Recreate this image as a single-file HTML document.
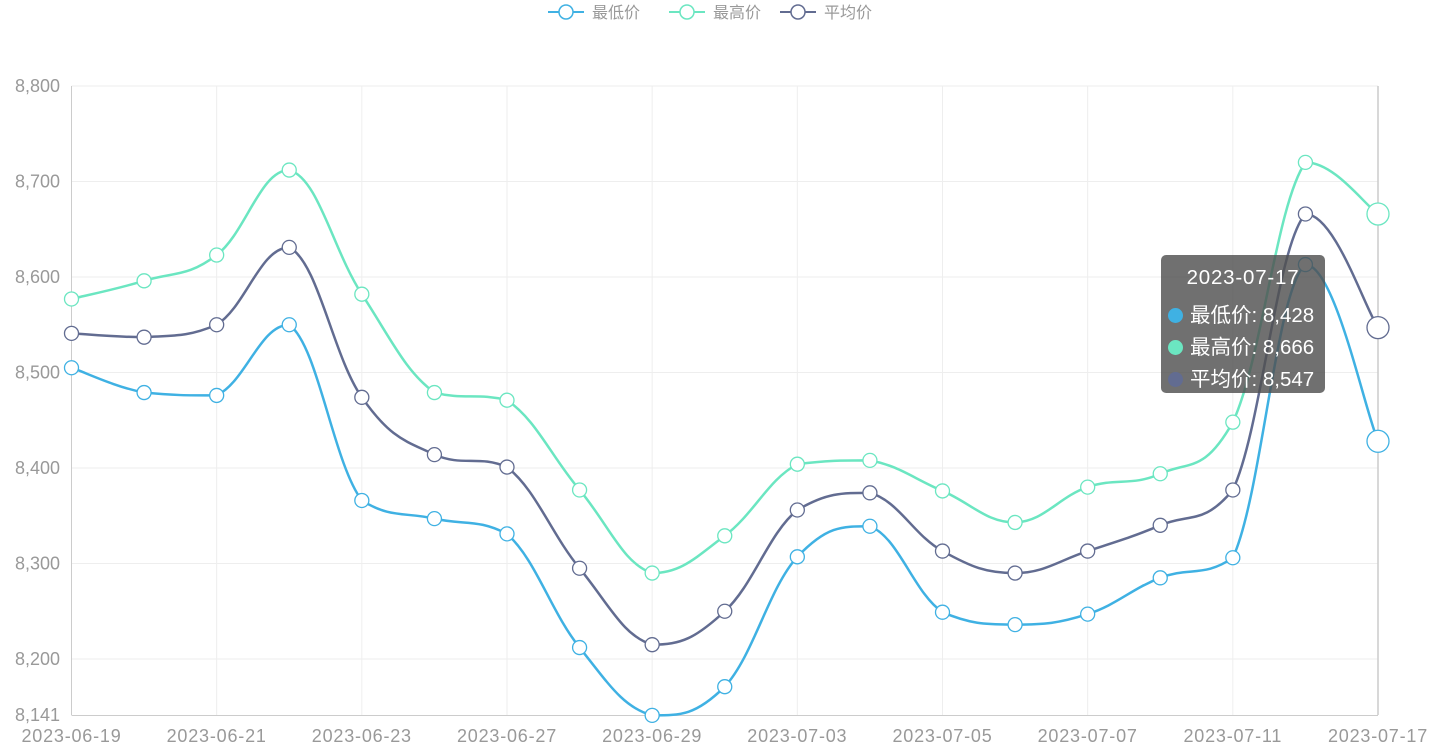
<!DOCTYPE html>
<html><head><meta charset="utf-8"><style>
body{margin:0;background:#fff;width:1442px;height:754px;overflow:hidden;font-family:"Liberation Sans","Noto Sans CJK SC",sans-serif}
#tt{position:absolute;left:1161px;top:255px;width:164px;height:138px;background:rgba(80,80,80,0.82);border-radius:5px;color:#fff;font-size:20.5px;box-sizing:border-box}
#tt div{position:absolute;left:7px;white-space:nowrap}
#tt span{display:inline-block;width:15px;height:15px;border-radius:50%;margin-right:7px;vertical-align:-1px}
</style></head><body>
<svg id="s" width="1442" height="754" style="position:absolute;left:0;top:0" font-family="Liberation Sans, Noto Sans CJK SC, sans-serif"></svg>
<div id="tt">
<div style="left:0;width:164px;text-align:center;top:11px;letter-spacing:0.8px">2023-07-17</div>
<div style="top:43px"><span style="background:#3fb1e3"></span>最低价: 8,428</div>
<div style="top:75px"><span style="background:#6be6c1"></span>最高价: 8,666</div>
<div style="top:107px"><span style="background:#626c91"></span>平均价: 8,547</div>
</div>
<script>
const L=[8505,8479,8476,8550,8366,8347,8331,8212,8141,8171,8307,8339,8249,8236,8247,8285,8306,8613,8428];
const H=[8577,8596,8623,8712,8582,8479,8471,8377,8290,8329,8404,8408,8376,8343,8380,8394,8448,8720,8666];
const A=[8541,8537,8550,8631,8474,8414,8401,8295,8215,8250,8356,8374,8313,8290,8313,8340,8377,8666,8547];
const x0=71.5,x1=1378,y=v=>659+(8200-v)*0.955,X=i=>x0+i*(x1-x0)/18;
let h='';
for(const v of [8200,8300,8400,8500,8600,8700,8800]){const yy=y(v).toFixed(1);h+=`<line x1="${x0}" x2="${x1}" y1="${yy}" y2="${yy}" stroke="#eee"/><text x="60" y="${+yy+6}" text-anchor="end" font-size="18" fill="#999">${v.toLocaleString('en-US')}</text>`;}
h+=`<text x="60" y="721" text-anchor="end" font-size="18" fill="#999">8,141</text>`;
const labs=['2023-06-19','2023-06-21','2023-06-23','2023-06-27','2023-06-29','2023-07-03','2023-07-05','2023-07-07','2023-07-11','2023-07-17'];
for(let k=0;k<10;k++){const xx=X(k*2);if(k>0&&k<9)h+=`<line x1="${xx}" x2="${xx}" y1="86" y2="715" stroke="#eee"/>`;h+=`<text x="${xx}" y="742" text-anchor="middle" font-size="18" letter-spacing="0.8" fill="#999">${labs[k]}</text>`;}
h+=`<line x1="${x0}" x2="${x0}" y1="86" y2="715" stroke="#ccc"/><line x1="${x0}" x2="${x1}" y1="715.5" y2="715.5" stroke="#ccc"/><line x1="${x1}" x2="${x1}" y1="86" y2="715" stroke="#ccc" stroke-width="1.5"/>`;
const cl=(v,a,b)=>Math.max(Math.min(a,b),Math.min(Math.max(a,b),v));
function path(d){const p=d.map((v,i)=>[X(i),y(v)]);let s=`M${p[0]}`;const t=0.2;
for(let i=0;i<p.length-1;i++){const a=p[i-1]||p[i],b=p[i],c=p[i+1],e=p[i+2]||c;
let y1=cl(b[1]+(c[1]-a[1])*t,b[1],c[1]),y2=cl(c[1]-(e[1]-b[1])*t,b[1],c[1]);
s+=` C${b[0]+(c[0]-a[0])*t},${y1} ${c[0]-(e[0]-b[0])*t},${y2} ${c[0]},${c[1]}`;}return s;}
for(const [d,c] of [[L,'#3fb1e3'],[H,'#6be6c1'],[A,'#626c91']]){
h+=`<path d="${path(d)}" fill="none" stroke="${c}" stroke-width="2.5"/>`;
d.forEach((v,i)=>{h+=`<circle cx="${X(i)}" cy="${y(v)}" r="${i==18?11:7}" fill="#fff" stroke="${c}" stroke-width="1.3"/>`;});}
[[548,'#3fb1e3','最低价'],[669,'#6be6c1','最高价'],[780,'#626c91','平均价']].forEach(([x,c,t])=>{
h+=`<line x1="${x}" x2="${x+36}" y1="12" y2="12" stroke="${c}" stroke-width="2"/><circle cx="${x+18}" cy="12" r="7" fill="#fff" stroke="${c}" stroke-width="1.5"/><text x="${x+44}" y="18" font-size="16" fill="#999">${t}</text>`;});
document.getElementById('s').innerHTML=h;
</script>
</body></html>
